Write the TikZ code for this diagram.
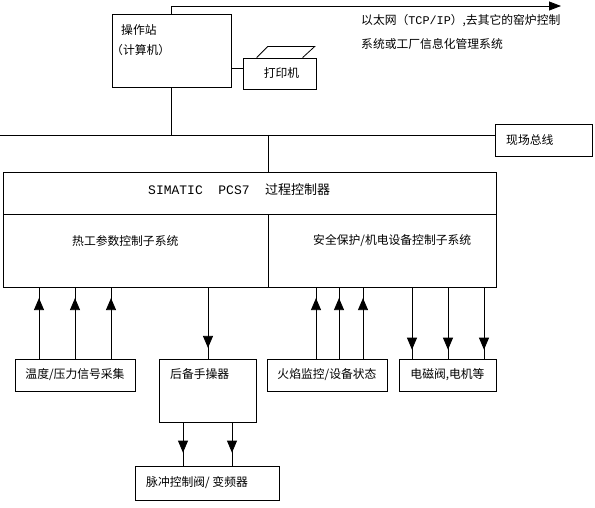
\documentclass[tikz,border=0pt]{standalone}
\usepackage{fontspec}
\setmainfont{Noto Sans CJK SC}
\newfontfamily\latinmono{Liberation Mono}
\usetikzlibrary{arrows.meta,decorations.markings}
\newcommand{\twelve}{\fontsize{11.8}{14}\selectfont}
\tikzset{
 every node/.append style={font=\twelve,text=black,inner sep=0pt},
 box/.style={draw=black,line width=.8pt,inner sep=0pt},
 word/.style={inner sep=0pt,anchor=west},
 wire/.style={draw=black,line width=.8pt},
 tip/.style={-{Triangle[length=12pt,width=9pt]}},
 mid/.style={wire,postaction={decorate},decoration={markings,mark=at position #1 with {\arrow{Triangle[length=12pt,width=10pt]}}}},
}

\begin{document}
\begin{tikzpicture}[x=1pt,y=-1pt]

\useasboundingbox (0,0) rectangle (595,508);
% upper level
\node[box,minimum width=119,minimum height=73] (op) at (171.5,50.5) {};
\node[word] (optitle) at (121,30) {操作站};
\node[word] (opsub) at (111,50) {（计算机）};
\node[box,minimum width=73,minimum height=31] (printer) at (279.5,73.5) {\hspace*{4pt}打印机};
\draw[wire] ([xshift=14pt]printer.north west) -- ++(11,-11) -- ++(47,0) -- ++(-12,11);
\coordinate (plug) at ([yshift=5pt]printer.west);
\draw[wire] (plug -| op.east) -- (plug);
\coordinate (eth) at (561,6);
\draw[wire,tip] (op.north) |- (eth);
\node[word] (eth1) at (361,21) {以太网（{\latinmono TCP/IP}）,去其它的窑炉控制};
\node[word] (eth2) at (361,44) {系统或工厂信息化管理系统};
% field bus
\node[box,minimum width=97,minimum height=32] (fieldbus) at (543.5,140) {};
\node[word] (fbtext) at (506,140) {现场总线};
\coordinate (busstart) at (0,135);
\draw[wire] (busstart) -- (busstart -| fieldbus.west);
\draw[wire] (op.south) -- (op.south |- busstart);
% controller
\node[box,minimum width=493,minimum height=42] (pcs) at (249.5,193) {};
\node[box,minimum width=265,minimum height=73] (sub1) at (135.5,250.5) {};
\node[box,minimum width=228,minimum height=73] (sub2) at (382,250.5) {};
\node[word,font=\fontsize{13}{15}\selectfont] (pcstext) at (148,190) {{\latinmono SIMATIC~~PCS7~~}过程控制器};
\node[word] (sub1text) at (72,241) {热工参数控制子系统};
\node[word] (sub2text) at (313,241) {安全保护/机电设备控制子系统};
\draw[wire] (sub1.east |- busstart) -- (sub1.east |- pcs.north);
% field level
\node[box,minimum width=120,minimum height=32] (temp) at (75,375) {温度/压力信号采集};
\node[box,minimum width=97,minimum height=63] (backup) at (207.5,390.5) {};
\node[word] (backuptext) at (170,374) {后备手操器};
\node[box,minimum width=144,minimum height=34] (pulse) at (207,483) {};
\node[word] (pulsetext) at (146,483) {脉冲控制阀/ 变频器};
\node[box,minimum width=120,minimum height=32] (fire) at (327,375) {火焰监控/设备状态};
\node[box,minimum width=97,minimum height=32] (valve) at (447.5,375) {电磁阀,电机等};
\foreach \x in {39,75,111}
 \draw[mid=.85] (\x,0 |- temp.north) -- (\x,0 |- sub1.south);
\draw[mid=.85] (208,0 |- sub1.south) -- (208,0 |- backup.north);
\foreach \x in {183,232}
 \draw[mid=.7] (\x,0 |- backup.south) -- (\x,0 |- pulse.north);
\foreach \x in {316,339,363}
 \draw[mid=.85] (\x,0 |- fire.north) -- (\x,0 |- sub2.south);
\foreach \x in {412,448,484}
 \draw[mid=.875] (\x,0 |- sub2.south) -- (\x,0 |- valve.north);

\end{tikzpicture}
\end{document}
